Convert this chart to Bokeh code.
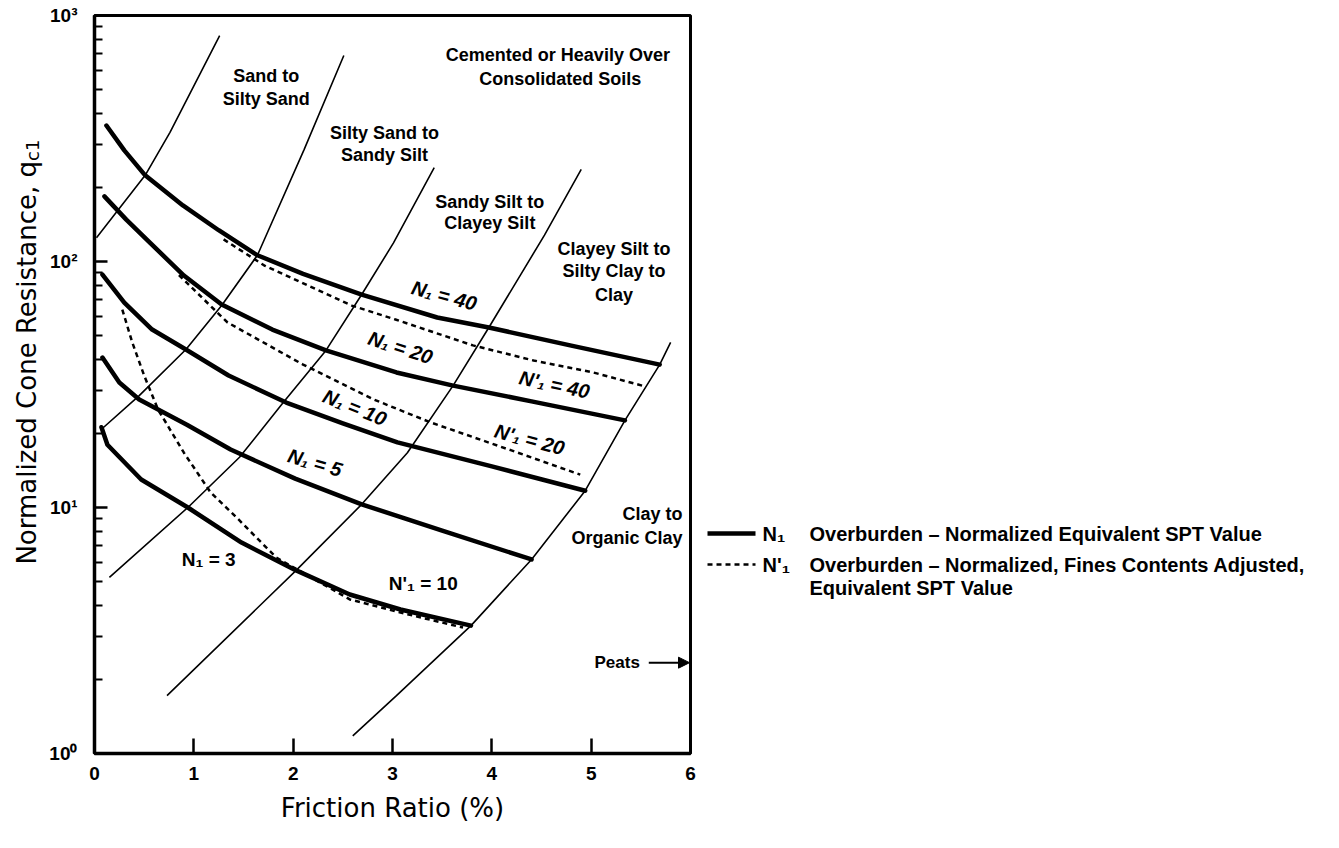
import math
from bokeh.plotting import figure
from bokeh.models import FixedTicker, Range1d, Arrow, NormalHead
from bokeh.layouts import row
from bokeh.core.properties import value
from bokeh.embed import file_html
from bokeh.resources import INLINE

# ---------------- data ----------------
# N1 curves (solid, thick)
n1_40_x = [0.12, 0.30, 0.51, 0.89, 1.25, 1.64, 2.10, 2.69, 3.45, 3.97, 4.80, 5.69]
n1_40_y = [357, 283, 224, 169, 134, 106, 89, 73.4, 59.2, 53.9, 45.5, 38.1]
n1_20_x = [0.10, 0.32, 0.56, 0.90, 1.28, 1.79, 2.33, 3.04, 3.61, 4.40, 5.34]
n1_20_y = [184, 148, 119, 87.7, 66.9, 52.9, 43.5, 35.4, 31.3, 27.0, 22.6]
n1_10_x = [0.08, 0.30, 0.58, 0.92, 1.35, 1.93, 2.50, 3.05, 4.00, 4.94]
n1_10_y = [88.5, 68.1, 52.9, 43.9, 34.4, 26.7, 22.0, 18.4, 14.7, 11.7]
n1_5_x = [0.08, 0.25, 0.45, 0.93, 1.37, 2.02, 2.69, 3.50, 4.40]
n1_5_y = [40.7, 32.2, 27.5, 21.7, 17.2, 13.1, 10.3, 8.05, 6.15]
n1_3_x = [0.07, 0.13, 0.47, 0.94, 1.48, 2.03, 2.57, 3.08, 3.79]
n1_3_y = [21.2, 18.0, 13.0, 10.0, 7.2, 5.55, 4.43, 3.85, 3.31]

# N'1 curves (dashed)
n1p_40_x = [1.30, 1.71, 2.59, 3.03, 3.81, 4.42, 5.02, 5.55]
n1p_40_y = [123, 96.3, 66.2, 58.1, 45.6, 39.6, 35.4, 31.0]
n1p_20_x = [0.85, 1.34, 2.10, 2.81, 3.38, 4.19, 4.89]
n1p_20_y = [88, 56.5, 38.1, 27.5, 22.2, 17.1, 13.6]
n1p_10_x = [0.28, 0.38, 0.50, 0.64, 0.90, 1.17, 1.45, 1.83, 2.57, 3.08, 3.71]
n1p_10_y = [63.8, 46.9, 34.4, 25.0, 16.7, 11.5, 8.94, 6.26, 4.23, 3.74, 3.25]

# soil-type boundary lines (thin)
b1_x = [0.02, 0.51, 0.76, 1.26]
b1_y = [125, 224, 335, 829]
b2_x = [0.07, 0.45, 0.92, 1.28, 1.64, 2.11, 2.51]
b2_y = [20.8, 28.5, 43.9, 66.2, 106, 285, 688]
b3_x = [0.15, 0.94, 1.46, 1.90, 2.33, 2.69, 3.01, 3.42]
b3_y = [5.2, 10, 16, 26.7, 43.5, 73.4, 119, 241]
b4_x = [0.73, 2.03, 2.69, 3.15, 3.61, 3.97, 4.53, 4.90]
b4_y = [1.72, 5.55, 10.3, 16.7, 31.3, 53.9, 128, 237]
b5_x = [2.60, 3.04, 3.79, 4.40, 4.94, 5.34, 5.69, 5.80]
b5_y = [1.18, 1.72, 3.31, 6.15, 11.7, 22.6, 38.1, 46.9]

# zone names
zone_text = ["Sand to", "Silty Sand", "Silty Sand to", "Sandy Silt",
             "Cemented or Heavily  Over", "Consolidated Soils",
             "Sandy Silt to", "Clayey Silt",
             "Clayey Silt to", "Silty Clay to", "Clay"]
zone_x = [1.73, 1.73, 2.92, 2.92, 4.69, 4.69, 3.98, 3.98, 5.23, 5.23, 5.23]
zone_y = [570, 456, 334, 270, 688, 554, 174, 144, 112, 91.9, 73.4]
clay_text = ["Clay to", "Organic Clay"]
clay_x = [5.92, 5.92]
clay_y = [9.37, 7.55]
peats_text = "Peats"
peats_x = 5.49
peats_y = 2.34

# curve labels
rot_text = ["N\u2081 = 40", "N\u2081 = 20", "N\u2081 = 10", "N\u2081 = 5",
            "N'\u2081 = 40", "N'\u2081 = 20"]
rot_x = [3.52, 3.08, 2.62, 2.22, 4.63, 4.38]
rot_y = [72.7, 44.7, 25.5, 15.2, 31.6, 18.9]
rot_deg = [-15, -18, -22, -16, -12, -15]
up_text = ["N\u2081 = 3", "N'\u2081 = 10"]
up_x = [1.15, 3.31]
up_y = [6.15, 4.91]

x_ticks = [0, 1, 2, 3, 4, 5, 6]
y_ticks = [1, 10, 100, 1000]
y_minor = [2, 3, 4, 5, 6, 7, 8, 9, 20, 30, 40, 50, 60, 70, 80, 90,
           200, 300, 400, 500, 600, 700, 800, 900]
y_tick_labels = {1: "10\u2070", 10: "10\u00b9", 100: "10\u00b2", 1000: "10\u00b3"}

x_title = "Friction Ratio (%)"
y_title = "Normalized Cone Resistance, q"
y_title_sub = "c1"

legend_sym = ["N\u2081", "N'\u2081"]
legend_lines = ["Overburden \u2013 Normalized Equivalent SPT Value",
                "Overburden \u2013 Normalized, Fines Contents Adjusted,",
                "Equivalent SPT Value"]

FONT = "Liberation Sans"
H = 832

# ---------------- y-title strip ----------------
yt = figure(width=46, height=H, x_range=Range1d(0, 46), y_range=Range1d(0, H),
            x_axis_type=None, y_axis_type=None, toolbar_location=None, output_backend="svg",
            min_border=0, outline_line_color=None,
            background_fill_color="white", border_fill_color="white")
yt.grid.visible = False
yt.text(x=[26], y=[668], text=[y_title], angle=math.pi / 2, text_align="right",
        text_baseline="alphabetic", text_font=value("DejaVu Sans"), text_font_size="26px",
        text_color="black")
yt.text(x=[32], y=[668], text=[y_title_sub], angle=math.pi / 2, text_align="left",
        text_baseline="alphabetic", text_font=value("DejaVu Sans"), text_font_size="18px",
        text_color="black")

# ---------------- main figure ----------------
p = figure(width=654, height=H, x_range=Range1d(0, 6), y_range=Range1d(1, 1000),
           y_axis_type="log", toolbar_location=None, output_backend="svg",
           min_border_left=48, min_border_right=10, min_border_top=15, min_border_bottom=79,
           background_fill_color="white", border_fill_color="white")
p.grid.visible = False
p.outline_line_color = "black"
p.outline_line_width = 3

xa = p.xaxis[0]
xa.ticker = FixedTicker(ticks=x_ticks)
xa.major_tick_in = 15
xa.major_tick_out = 0
xa.minor_tick_in = 0
xa.minor_tick_out = 0
xa.axis_line_width = 3.5
xa.major_tick_line_width = 2.5
xa.major_label_text_font = FONT
xa.major_label_text_font_style = "bold"
xa.major_label_text_font_size = "19px"
xa.major_label_text_color = "black"
xa.major_label_standoff = 13
xa.axis_label = x_title
xa.axis_label_text_font = "DejaVu Sans"
xa.axis_label_text_font_style = "normal"
xa.axis_label_text_font_size = "26px"
xa.axis_label_text_color = "black"
xa.axis_label_standoff = 10

ya = p.yaxis[0]
ya.ticker = FixedTicker(ticks=y_ticks, minor_ticks=y_minor)
ya.major_tick_in = 13
ya.major_tick_out = 0
ya.minor_tick_in = 8
ya.minor_tick_out = 0
ya.axis_line_width = 3.5
ya.major_tick_line_width = 2.5
ya.minor_tick_line_width = 2
ya.major_label_overrides = y_tick_labels
ya.major_label_text_font = FONT
ya.major_label_text_font_style = "bold"
ya.major_label_text_font_size = "19px"
ya.major_label_text_color = "black"
ya.major_label_standoff = 17

# boundary lines
for bx, by in [(b1_x, b1_y), (b2_x, b2_y), (b3_x, b3_y), (b4_x, b4_y), (b5_x, b5_y)]:
    p.line(bx, by, line_color="black", line_width=1.6)

# dashed N'1 curves
for cx, cy in [(n1p_40_x, n1p_40_y), (n1p_20_x, n1p_20_y), (n1p_10_x, n1p_10_y)]:
    p.line(cx, cy, line_color="black", line_width=2.5, line_dash="5 4")

# solid N1 curves
for cx, cy in [(n1_40_x, n1_40_y), (n1_20_x, n1_20_y), (n1_10_x, n1_10_y),
               (n1_5_x, n1_5_y), (n1_3_x, n1_3_y)]:
    p.line(cx, cy, line_color="black", line_width=4.5, line_cap="round", line_join="round")

# zone labels
p.text(x=zone_x, y=zone_y, text=zone_text, text_font=value(FONT), text_font_style="bold",
       text_font_size="18px", text_align="center", text_baseline="middle", text_color="black")
p.text(x=clay_x, y=clay_y, text=clay_text, text_font=value(FONT), text_font_style="bold",
       text_font_size="18px", text_align="right", text_baseline="middle", text_color="black")
p.text(x=[peats_x], y=[peats_y], text=[peats_text], text_font=value(FONT), text_font_style="bold",
       text_font_size="17px", text_align="right", text_baseline="middle", text_color="black")
p.add_layout(Arrow(x_start=peats_x + 0.09, y_start=peats_y, x_end=5.99, y_end=peats_y,
                   line_width=2, line_color="black",
                   end=NormalHead(size=11, fill_color="black", line_color="black")))

# curve labels
p.text(x=rot_x, y=rot_y, text=rot_text, angle=[math.radians(a) for a in rot_deg],
       text_font=value(FONT), text_font_style="bold italic", text_font_size="20px",
       text_align="center", text_baseline="middle", text_color="black")
p.text(x=up_x, y=up_y, text=up_text, text_font=value(FONT), text_font_style="bold",
       text_font_size="19px", text_align="center", text_baseline="middle", text_color="black")

# ---------------- legend panel ----------------
lg = figure(width=623, height=H, x_range=Range1d(0, 623), y_range=Range1d(H, 0),
            x_axis_type=None, y_axis_type=None, toolbar_location=None, output_backend="svg",
            min_border=0, outline_line_color=None,
            background_fill_color="white", border_fill_color="white")
lg.grid.visible = False
lg.line([7, 55], [584, 584], line_color="black", line_width=4.5)
lg.line([7, 55], [619, 619], line_color="black", line_width=2.5, line_dash="5 4")
lg.text(x=[62, 62], y=[584, 619], text=legend_sym, text_font=value(FONT), text_font_style="bold",
        text_font_size="20px", text_align="left", text_baseline="middle", text_color="black")
lg.text(x=[109, 109, 109], y=[584, 619, 645], text=legend_lines, text_font=value(FONT),
        text_font_style="bold", text_font_size="20px", text_align="left", text_baseline="middle",
        text_color="black")

layout = row(yt, p, lg)
open("out.html", "w").write(file_html(layout, INLINE))
